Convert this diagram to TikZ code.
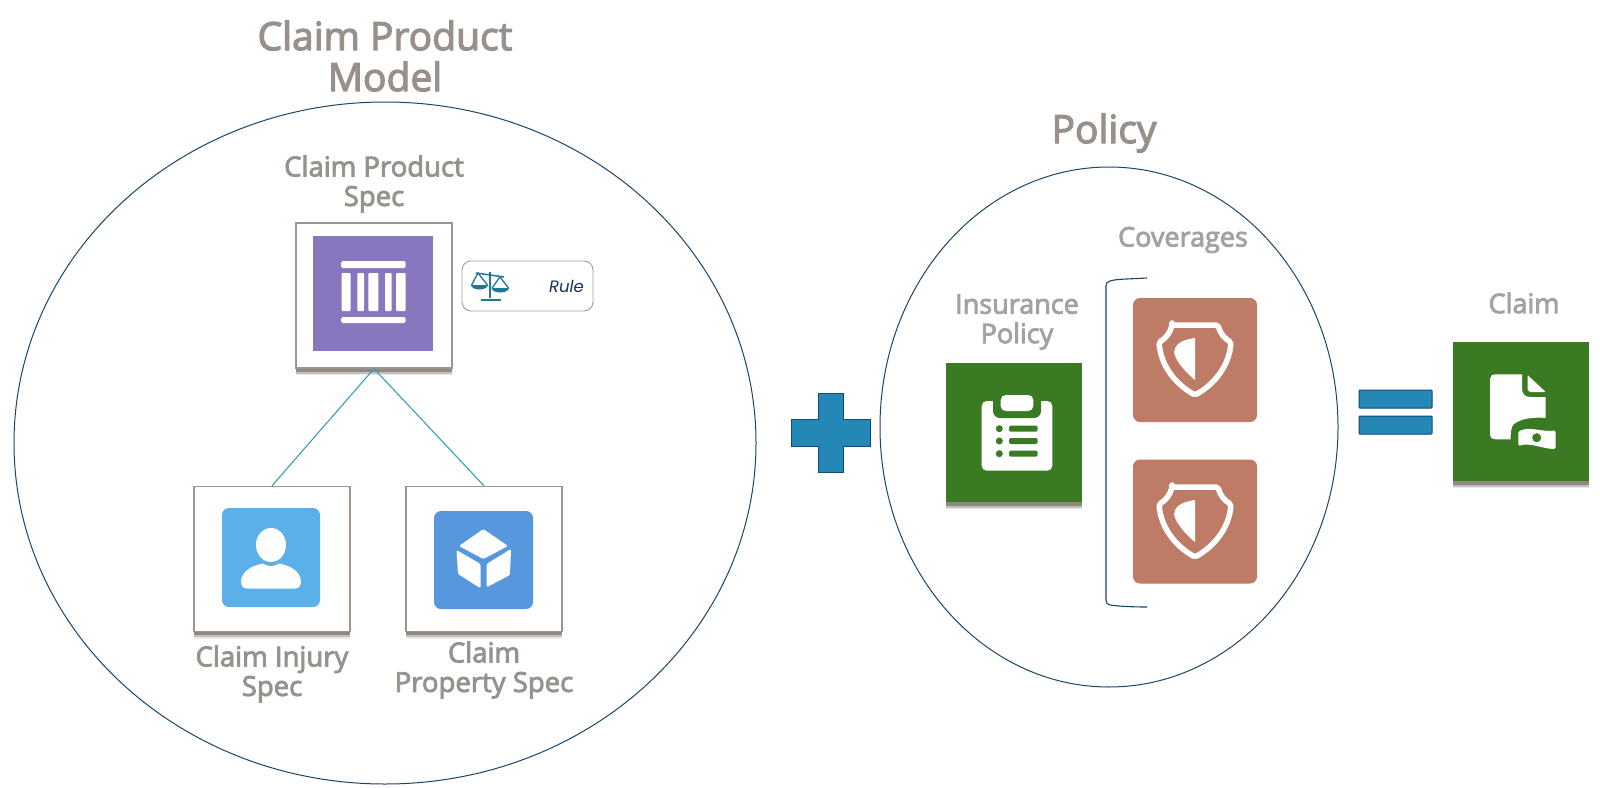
\documentclass[tikz,border=0pt]{standalone}
\usepackage{fontspec}
\setmainfont{Open Sans}
\newfontfamily\rulefont{Poppins}
\newfontfamily\labelfont[FakeBold=3]{Open Sans}
\usetikzlibrary{shapes.geometric,shadows}
\definecolor{titlegray}{HTML}{98908A}
\definecolor{labelgray}{HTML}{96928D}
\definecolor{lightgray2}{HTML}{A2A2A2}
\definecolor{ringblue}{HTML}{1B4668}
\definecolor{linkblue}{HTML}{3A9DBB}
\definecolor{violet2}{HTML}{8877BE}
\definecolor{sky2}{HTML}{5BB0EA}
\definecolor{azure2}{HTML}{5697DE}
\definecolor{leaf}{HTML}{3A7A22}
\definecolor{clay}{HTML}{BE7B65}
\definecolor{opblue}{HTML}{2487B6}
\definecolor{opedge}{HTML}{0F4A78}
\definecolor{ruleblue}{HTML}{1F7796}
\definecolor{navytext}{HTML}{16325C}
\definecolor{shade}{HTML}{7B716A}
\tikzset{
  softshadow/.style={
    general shadow={fill=shade,shadow yshift=-7pt,opacity=.15},
    general shadow={fill=shade,shadow yshift=-5.5pt,opacity=.35},
    general shadow={fill=shade,shadow yshift=-3.5pt,opacity=.7}},
  ring/.style={ellipse,draw=ringblue,line width=1pt,inner sep=0pt,fill=white},
  specbox/.style={rectangle,draw=shade!75,line width=1.4pt,fill=white,minimum width=156pt,minimum height=145pt,inner sep=0pt,softshadow},
  tile/.style={rectangle,inner sep=0pt},
  roundtile/.style={rectangle,rounded corners=7pt,inner sep=0pt},
  link/.style={draw=linkblue,line width=1.1pt},
  oplus/.style={fill=opblue,draw=opedge,line width=1pt},
  eqbar/.style={rectangle,fill=opblue,draw=opedge,line width=1pt,inner sep=0pt,minimum width=73pt,minimum height=18pt,rounded corners=.8pt},
  bigtitle/.style={align=center,text=titlegray,font=\labelfont\fontsize{39}{41}\selectfont},
  smalltitle/.style={align=center,text=labelgray,font=\labelfont\fontsize{27.5}{29.5}\selectfont},
  lighttitle/.style={align=center,text=lightgray2,font=\labelfont\fontsize{27}{29.5}\selectfont},
  glyph/.style={fill=white,draw=none},
  shield/.pic={
    \draw[white,line width=5.5pt,line join=round,rounded corners=2pt]
      (-23,-27) -- (23,-27) .. controls (25,-19) and (30,-13) .. (36,-10)
      .. controls (34,15) and (18,33) .. (0,43)
      .. controls (-18,33) and (-34,15) .. (-36,-10)
      .. controls (-30,-13) and (-25,-19) .. (-23,-27) -- cycle;
    \fill[white] (0,-14) -- (0,28) .. controls (-10,20) and (-20,8) .. (-21,0)
      .. controls (-20,-7) and (-15,-12) .. (0,-14) -- cycle;
  }
}
\begin{document}
\begin{tikzpicture}[x=1pt,y=-1pt]
\useasboundingbox (0,0) rectangle (1600,787);
\fill[white] (0,0) rectangle (1600,787);

% rings
\node[ring,minimum width=742pt,minimum height=682pt] (modelring) at (385,443) {};
\node[ring,minimum width=458pt,minimum height=520pt] (policyring) at (1109,427) {};

% titles
\node[bigtitle] (modeltitle) at (385,56) {Claim Product\\Model};
\node[bigtitle] (policytitle) at (1104,133) {Policy};
\node[smalltitle] (speclabel) at (374,184) {Claim Product\\Spec};
\node[smalltitle] (injurylabel) at (272,674) {Claim Injury\\Spec};
\node[smalltitle] (propertylabel) at (484,670) {Claim\\Property Spec};
\node[lighttitle] (insurancelabel) at (1017,322) {Insurance\\Policy};
\node[lighttitle] (coverageslabel) at (1183,240) {Coverages};
\node[lighttitle] (claimlabel) at (1524,303) {Claim};

% connectors
\node[specbox] (specbox) at (374,295.5) {};
\node[specbox] (injurybox) at (272,559) {};
\node[specbox] (propertybox) at (484,559) {};
\draw[link] (specbox.south) -- (injurybox.north);
\draw[link] (specbox.south) -- (propertybox.north);

% purple tile
\node[tile,fill=violet2,minimum width=120pt,minimum height=115pt] (spectile) at (373,293.5) {};
\fill[white,rounded corners=1.5pt] (341,261) rectangle (405.7,268);
\fill[white,rounded corners=1.5pt] (341,317) rectangle (405.7,323);
\foreach \a/\b in {341.7/350.7,357.3/364,368.3/378.3,385/391.7,396/405.7}
  \fill[white,rounded corners=1pt] (\a,273) rectangle (\b,311);

% rule chip
\node[rectangle,rounded corners=9pt,draw=gray!75,line width=.9pt,fill=white,minimum width=131pt,minimum height=50pt,inner sep=0pt] (rulechip) at (527.5,286) {};
\node[text=navytext,inner sep=0pt,font=\rulefont\itshape\fontsize{16.5}{16.5}\selectfont] (ruletext) at (566.5,286) {Rule};
\draw[ruleblue,line width=2.4pt] (490,272) -- (490,298);
\draw[ruleblue,line width=2.4pt] (480.7,299.7) -- (500.7,299.7);
\draw[ruleblue,line width=1.5pt] (476,273) -- (504,277);
\draw[ruleblue,line width=1.3pt,line join=round] (471.5,285) -- (478,273) -- (487.5,285);
\draw[ruleblue,line width=1.3pt,line join=round] (492,288) -- (500,277) -- (508.5,288);
\fill[ruleblue] (471,285) -- (488,285) .. controls (487,291) and (472,291) .. (471,285) -- cycle;
\fill[ruleblue] (491.5,288) -- (509,288) .. controls (508,294) and (492.5,294) .. (491.5,288) -- cycle;

% person tile
\node[roundtile,fill=sky2,minimum width=98pt,minimum height=99pt] (injurytile) at (271,557.5) {};
\fill[glyph] (271,545) ellipse [x radius=15,y radius=17];
\fill[glyph] (241,581) .. controls (242,572) and (250,566) .. (263,563.5)
  .. controls (268,567) and (274,567) .. (279,563.5)
  .. controls (292,566) and (300,572) .. (301,581)
  .. controls (301,586) and (299,588.5) .. (295,588.5) -- (247,588.5)
  .. controls (243,588.5) and (241,586) .. (241,581) -- cycle;

% cube tile
\node[roundtile,fill=azure2,minimum width=99pt,minimum height=98pt] (propertytile) at (483.5,560) {};
\fill[glyph,rounded corners=1.5pt] (483.3,529) -- (508,546) -- (483.3,559) -- (459,546) -- cycle;
\fill[glyph,rounded corners=1.5pt] (456.5,550) -- (480.5,564) -- (480.5,588.3) -- (458,574) -- cycle;
\fill[glyph,rounded corners=1.5pt] (511,549) -- (486.5,564) -- (486.5,587.3) -- (510,575) -- cycle;

% plus
\path[oplus] (818,393) -- (843,393) -- (843,419) -- (870,419) -- (870,446) -- (843,446) -- (843,472) -- (818,472) -- (818,446) -- (791,446) -- (791,419) -- (818,419) -- cycle;

% insurance policy tile
\node[tile,fill=leaf,minimum width=136pt,minimum height=139pt,softshadow] (policytile) at (1014,432.5) {};
\fill[glyph,rounded corners=5pt] (981.7,401) rectangle (1052.3,470.7);
\fill[leaf,rounded corners=7pt] (993,388) rectangle (1041,418);
\fill[glyph,rounded corners=5pt] (1000.7,395) rectangle (1033.3,411);
\foreach \yy in {428.7,441,453.7} {
  \fill[leaf] (999.3,\yy) circle [radius=3.5];
  \fill[leaf,rounded corners=1.5pt] (1009,\yy-3) rectangle (1037.7,\yy+3);
}

% bracket
\coordinate (brtop) at (1147,278);
\coordinate (brbot) at (1147,607);
\draw[ringblue,line width=1.1pt] (brtop) .. controls (1130,279) and (1115,279) .. (1110,281) .. controls (1107,282) and (1106,283) .. (1106,286) -- (1106,600) .. controls (1106,603) and (1107,604) .. (1110,605) .. controls (1116,606) and (1130,607) .. (brbot);

% coverage tiles
\node[roundtile,fill=clay,minimum width=124pt,minimum height=124pt] (coverageone) at (1195,360) {};
\node[roundtile,fill=clay,minimum width=124pt,minimum height=124pt] (coveragetwo) at (1195,521.5) {};
\pic at (1195,352) {shield};
\pic at (1195,514) {shield};

% equals
\node[eqbar] (eqtop) at (1395.5,399) {};
\node[eqbar] (eqbottom) at (1395.5,425) {};

% claim tile
\node[tile,fill=leaf,minimum width=136pt,minimum height=139pt,softshadow] (claimtile) at (1521,411.5) {};
\fill[glyph] (1490,379) .. controls (1490,376) and (1492,374.3) .. (1495,374.3) -- (1522,374.3) -- (1522,389)
  .. controls (1522,394) and (1525,397) .. (1531,397) -- (1545.7,397) -- (1545.7,418)
  .. controls (1535,417) and (1520,418) .. (1513,425) .. controls (1511,428) and (1510.5,434) .. (1510.5,439.3) -- (1495,439.3)
  .. controls (1492,439.3) and (1490,437.5) .. (1490,435) -- cycle;
\fill[glyph,rounded corners=1pt] (1527.5,375) -- (1545.7,392) -- (1531.5,392) .. controls (1529,392) and (1527.5,390) .. (1527.5,388) -- cycle;
\fill[glyph,rounded corners=1.5pt] (1518.3,431.5) .. controls (1530,426) and (1540,432) .. (1555.7,430.5) -- (1555.7,449)
  .. controls (1543,449) and (1530,442) .. (1518.3,446) -- cycle;
\fill[leaf] (1536.7,437.7) circle [radius=4.5];
\end{tikzpicture}
\end{document}
